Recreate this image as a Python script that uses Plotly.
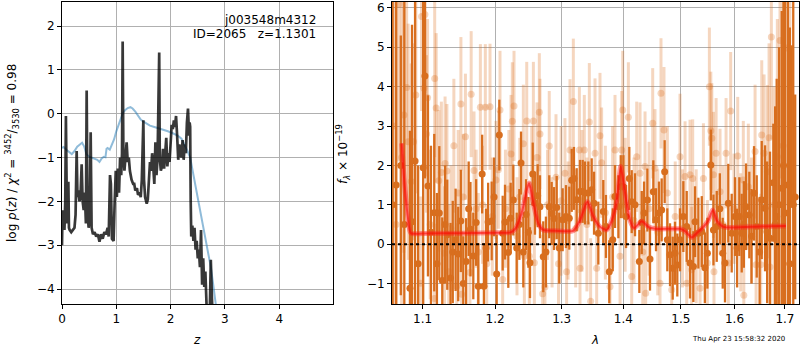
import math
import plotly.graph_objects as go

# ---------------- left panel: redshift PDF ----------------
PZ_Z = [0.000, 0.010, 0.020, 0.030, 0.045, 0.060, 0.072, 0.082, 0.092, 0.105,
        0.117, 0.128, 0.140, 0.170, 0.200, 0.230, 0.250, 0.270, 0.285, 0.300,
        0.320, 0.340, 0.362, 0.380, 0.400, 0.420, 0.440, 0.454, 0.470, 0.490,
        0.510, 0.528, 0.545, 0.570, 0.600, 0.630, 0.660, 0.690, 0.720, 0.750,
        0.780, 0.810, 0.840, 0.860, 0.884, 0.900, 0.920, 0.950, 0.970, 0.990,
        1.010, 1.030, 1.050, 1.070, 1.090, 1.105, 1.117, 1.130, 1.150, 1.170,
        1.190, 1.210, 1.230, 1.250, 1.280, 1.310, 1.330, 1.350, 1.380, 1.400,
        1.430, 1.450, 1.470, 1.498, 1.510, 1.530, 1.560, 1.580, 1.600, 1.620,
        1.640, 1.660, 1.680, 1.700, 1.720, 1.740, 1.760, 1.790, 1.800, 1.820,
        1.840, 1.860, 1.880, 1.900, 1.920, 1.940, 1.960, 1.980, 2.000, 2.020,
        2.040, 2.060, 2.080, 2.100, 2.120, 2.140, 2.160, 2.180, 2.200, 2.220,
        2.240, 2.260, 2.280, 2.300, 2.320, 2.340, 2.350, 2.360, 2.370, 2.380,
        2.400, 2.420, 2.440, 2.460, 2.480, 2.500, 2.520, 2.540, 2.560, 2.580,
        2.600, 2.620, 2.640, 2.660, 2.680, 2.720, 2.740, 2.760, 2.790, 2.900]
PZ_LOGP = [-3.0, -2.2, -2.6, -2.3, -2.65, -2.0, -0.05, -1.6, -2.5, -2.1,
           -1.55, -2.6, -2.65, -2.7, -2.65, -2.6, -2.3, -0.85, -1.9, -1.75,
           -2.0, -1.9, -1.15, -2.0, -2.2, -1.8, -2.5, 0.53, -2.2, -2.6,
           -2.4, -0.42, -2.6, -2.75, -2.7, -2.8, -2.75, -2.92, -2.75, -2.85,
           -2.7, -2.75, -2.6, -2.8, -1.4, -1.6, -2.85, -2.9, -2.0, -1.3,
           -1.9, -1.25, -1.8, -1.0, -1.4, -0.9, 1.65, -0.9, -1.3, -0.9,
           -0.65, -1.1, -1.0, -1.3, -1.5, -1.6, -1.6, -1.75, -1.7, -1.85,
           -1.8, -1.9, -1.5, -0.15, -1.5, -1.9, -2.05, -1.95, -1.5, -1.1,
           -1.3, -0.9, -1.2, -1.6, -0.65, -1.4, -1.0, 1.4, -1.0, -1.3,
           -1.2, -0.8, -1.25, -0.9, -0.55, -1.2, -0.9, -1.1, -0.5, -0.25,
           -0.35, -0.15, -0.3, -0.05, -0.5, -1.05, -0.7, -0.9, -1.0, -0.6,
           -1.05, -0.7, -0.9, -0.2, 0.12, -0.5, -0.2, -0.3, -2.0, -2.8,
           -2.55, -2.9, -2.6, -3.1, -2.9, -3.3, -3.1, -3.5, -2.65, -3.9,
           -3.3, -3.95, -3.6, -4.5, -5.0, -4.6, -3.33, -4.2, -6.0, -8.0]

PRIOR_Z = [0.00, 0.03, 0.08, 0.13, 0.18, 0.23, 0.28, 0.33, 0.37, 0.41,
           0.45, 0.50, 0.55, 0.60, 0.65, 0.69, 0.73, 0.77, 0.80, 0.82,
           0.84, 0.88, 0.92, 0.96, 1.00, 1.04, 1.08, 1.12, 1.16, 1.21,
           1.26, 1.30, 1.35, 1.40, 1.45, 1.50, 1.55, 1.62, 1.70, 1.78,
           1.86, 1.95, 2.05, 2.13, 2.20, 2.25, 2.30, 2.36, 2.42, 2.48,
           2.54, 2.60, 2.65, 2.69, 2.74, 2.78, 2.83, 2.88]
PRIOR_LOGP = [-0.78, -0.76, -0.82, -0.88, -0.92, -0.85, -0.75, -0.70, -0.66, -0.75,
              -0.92, -0.98, -1.00, -1.02, -1.05, -1.10, -1.02, -0.98, -0.99, -0.80,
              -0.78, -0.82, -0.70, -0.58, -0.40, -0.25, -0.10, 0.02, 0.08, 0.13,
              0.15, 0.12, 0.05, -0.05, -0.13, -0.18, -0.22, -0.27, -0.30, -0.33,
              -0.36, -0.40, -0.45, -0.50, -0.57, -0.68, -0.82, -1.00, -1.40, -1.80,
              -2.20, -2.57, -2.90, -3.18, -3.50, -3.86, -4.33, -4.80]

# ---------------- right panel: spectrum ----------------
DARK_WAVE = [1.061, 1.0655, 1.0715, 1.076, 1.0833, 1.086, 1.090, 1.094, 1.1007, 1.103,
             1.107, 1.111, 1.1154, 1.119, 1.1222, 1.1262,
             1.130, 1.133, 1.1375, 1.1405, 1.1444, 1.148, 1.1516, 1.155, 1.159, 1.1625,
             1.165, 1.169, 1.173, 1.176, 1.1815, 1.184, 1.187, 1.190, 1.1951, 1.1985,
             1.2023, 1.2061, 1.2110, 1.2144, 1.2192, 1.2227, 1.2266, 1.2316, 1.2355, 1.2380,
             1.2414, 1.2455, 1.2490, 1.2514, 1.2555, 1.2589, 1.2630, 1.2665, 1.2715, 1.2756,
             1.2807, 1.2844, 1.2880, 1.2922, 1.2962, 1.3015, 1.3067, 1.3119, 1.3157, 1.3193,
             1.3236, 1.3289, 1.3332, 1.3369, 1.3423, 1.3477, 1.3515, 1.3585, 1.3666, 1.3710,
             1.3765, 1.3822, 1.3860, 1.3916, 1.3956, 1.4000, 1.4045, 1.4100, 1.4141, 1.4197,
             1.4271, 1.4312, 1.4352, 1.4409, 1.4455, 1.4513, 1.4560, 1.4612, 1.4659, 1.4712,
             1.4759, 1.4807, 1.4855, 1.4896, 1.4937, 1.4986, 1.5046, 1.5107, 1.5167, 1.5228,
             1.5259, 1.5320, 1.5383, 1.5440, 1.5487, 1.5551, 1.5600, 1.5662, 1.5720, 1.5775,
             1.5818, 1.5881, 1.5946, 1.6010, 1.6050, 1.6093, 1.6139, 1.6180, 1.6223, 1.6287,
             1.6330, 1.6380, 1.6433, 1.6490, 1.6532, 1.6598, 1.6640, 1.6697, 1.6764, 1.6800,
             1.6832, 1.6880, 1.6934, 1.6970, 1.7001, 1.7060, 1.7100, 1.7137, 1.7170, 1.7210]
DARK_FLUX = [1.0, 1.5, 2.0, 0.5, -1.12, 0.57, 2.11, -0.5, 1.94, 4.27,
             1.48, 0.3, 0.80, -0.5, 0.79, -0.92,
             0.5, 0.24, -0.86, -0.2, 0.11, -0.25, 0.59, -1.0, -0.44, 0.9,
             0.38, -0.3, 0.55, -1.07, 1.78, -1.07, -0.10, 0.56, 0.59, 1.2,
             -0.76, 2.77, 0.28, 0.56, -0.21, 0.66, 1.12, -0.10, 0.5, 2.06,
             -0.2, 0.75, 0.3, -0.47, 1.78, 1.04, 1.23, 0.95, -0.32, -0.2,
             0.95, 0.78, 0.65, 0.93, -0.1, 0.62, 0.7, 0.66, 1.62, 1.67,
             1.13, 1.34, 1.34, 1.3, 1.3, 1.38, 1.04, 0.28, 0.83, 0.45,
             -0.7, 0.11, 1.21, 0.95, 1.46, 1.46, 0.70, 1.67, 1.08, 1.0,
             -0.44, 0.55, 0.79, 1.12, -0.38, 1.33, 0.62, 0.79, 0.87, 1.84,
             0.11, -0.27, -0.61, -0.23, -0.53, 0.11, 0.70, 0.45, -0.48, -0.57,
             0.57, 0.28, 0.32, -0.6, -0.23, 2.01, 0.36, 0.45, 0.9, -0.23,
             -0.48, 1.04, 0.28, 0.70, -0.1, 0.70, 0.28, 0.5, 0.95, 0.74,
             0.2, 1.29, 0.45, -0.2, 1.12, 0.91, 0.3, 0.15, 1.56, 0.5,
             0.70, 1.0, 1.42, 2.0, 0.79, 1.5, -0.5, 3.05, 1.0, 1.2]
DARK_ERR = [9, 8, 3.3, 8, 4.0, 5, 6, 2.5, 4.5, 2.6,
            2.3, 2.2, 2.0, 1.8, 1.7, 1.6,
            1.5, 1.4, 1.4, 1.3, 1.3, 1.2, 1.3, 1.2, 1.1, 1.2,
            1.2, 1.1, 1.1, 1.1, 1.0, 1.1, 1.0, 1.0, 1.0, 1.0,
            1.0, 0.9, 0.95, 0.95, 0.9, 0.9, 0.9, 0.9, 0.9, 0.8,
            0.9, 0.9, 0.9, 0.9, 0.8, 0.8, 0.8, 0.8, 0.9, 0.9,
            0.8, 0.8, 0.8, 0.8, 0.9, 0.8, 0.8, 0.8, 0.8, 0.8,
            0.8, 0.8, 0.8, 0.8, 0.8, 0.8, 0.8, 0.8, 0.8, 0.8,
            0.8, 0.8, 0.8, 0.8, 0.8, 0.8, 0.8, 0.8, 0.8, 0.8,
            0.8, 0.8, 0.8, 0.8, 0.8, 0.8, 0.8, 0.8, 0.8, 0.8,
            0.8, 0.8, 0.8, 0.8, 0.8, 0.8, 0.9, 0.9, 0.9, 0.9,
            0.9, 0.9, 0.9, 0.9, 0.9, 0.9, 0.9, 0.9, 0.9, 0.9,
            1.0, 1.0, 1.0, 1.0, 1.0, 1.0, 1.0, 1.1, 1.1, 1.1,
            1.2, 1.2, 1.3, 1.4, 1.5, 1.6, 1.8, 2.2, 1.5, 3.0,
            3.5, 4.0, 4.5, 5.0, 6.0, 7.0, 6.0, 2.0, 8.0, 2.6]

LIGHT_WAVE = [1.062, 1.0655, 1.069, 1.0725, 1.0755, 1.0790, 1.0810, 1.0850, 1.0880, 1.0910,
              1.0973, 1.0985, 1.1015, 1.1030, 1.1050, 1.1065, 1.1100, 1.1155, 1.1160, 1.1180,
              1.1215, 1.1250, 1.1292, 1.1300, 1.1325, 1.1350, 1.1380, 1.1420, 1.1460, 1.1480,
              1.1517, 1.1527, 1.1550, 1.1580, 1.1643, 1.1660, 1.1700, 1.1730, 1.1760, 1.1790,
              1.1820, 1.1860, 1.1880, 1.1927, 1.1960, 1.2013, 1.2047, 1.2071, 1.2110, 1.2150,
              1.2200, 1.2232, 1.2251, 1.2276, 1.2320, 1.2360, 1.2414, 1.2430, 1.2465, 1.2504,
              1.2540, 1.2565, 1.2580, 1.2620, 1.2655, 1.2665, 1.2706, 1.2741, 1.2780, 1.2807,
              1.2850, 1.2911, 1.2950, 1.2990, 1.3051, 1.3077, 1.3100, 1.3130, 1.3183, 1.3220,
              1.3279, 1.3289, 1.3320, 1.3358, 1.3400, 1.3439, 1.3460, 1.3531, 1.3558, 1.3612,
              1.3639, 1.3700, 1.3777, 1.3820, 1.3860, 1.3944, 1.3972, 1.3989, 1.4030, 1.4084,
              1.4141, 1.4180, 1.4226, 1.4283, 1.4330, 1.4369, 1.4380, 1.4440, 1.4502, 1.4542,
              1.4590, 1.4630, 1.4647, 1.4700, 1.4760, 1.4837, 1.4900, 1.4986, 1.5030, 1.5077,
              1.5107, 1.5167, 1.5197, 1.5216, 1.5280, 1.5351, 1.5413, 1.5487, 1.5524, 1.5551,
              1.5570, 1.5600, 1.5610, 1.5650, 1.5724, 1.5780, 1.5838, 1.5881, 1.5926, 1.5990,
              1.6062, 1.6120, 1.6170, 1.6180, 1.6268, 1.6330, 1.6400, 1.6420, 1.6512, 1.6532,
              1.6578, 1.6644, 1.6678, 1.6697, 1.6724, 1.6780, 1.6845, 1.6899, 1.6960, 1.7035,
              1.7100]
LIGHT_FLUX = [3.0, 0.5, 6.1, 2.2, 3.28, 3.98, 2.6, 1.59, 2.6, 3.79,
              -0.99, 5.78, 3.96, 5.83, 2.8, 3.72, 0.5, -1.38, 4.21, 3.46,
              1.61, 1.82, -0.23, 2.05, 1.86, -0.7, 0.4, 2.5, -1.07, 1.3,
              3.56, -1.27, 1.2, 2.73, -0.72, 3.81, 1.87, 0.9, -0.2, 3.48,
              1.0, 3.48, -0.5, 3.49, 0.7, 1.63, 1.89, 3.41, -0.9, 0.9,
              1.4, 2.29, 3.12, 3.51, 0.2, 1.2, 2.55, -0.31, 3.13, -0.31,
              1.5, 3.13, -0.47, 2.2, 3.35, 2.8, -1.26, -1.09, 1.0, 2.49,
              0.3, 1.7, -0.5, 1.1, 1.8, -0.7, 0.6, 2.39, 3.62, 0.4,
              2.39, -0.61, 1.1, 2.39, 0.5, 3.1, -1.45, 2.31, -0.61, 2.75,
              2.07, 0.8, -1.08, 1.2, 2.39, -0.31, 2.39, 3.41, 1.0, 3.22,
              -0.82, 0.6, 2.22, 1.8, -0.2, 1.97, -1.25, 0.9, 3.07, 1.93,
              0.3, -0.99, 3.83, 2.9, 1.3, -1.16, 0.7, 2.22, 0.4, 1.72,
              -0.99, 1.76, -0.65, 1.67, 0.2, -1.12, 1.67, -0.48, 4.0, 2.88,
              2.69, 1.76, -0.7, 2.31, 1.33, 0.5, 2.31, -0.48, 3.38, 0.9,
              2.24, 0.3, 1.63, -1.3, 1.46, 0.6, 2.35, -0.52, -0.52, 2.77,
              2.31, 1.84, 2.7, -0.58, 5.26, 1.0, 2.22, 5.17, 2.5, 4.98,
              1.5]
LIGHT_ERR = [8, 7, 4, 5, 3.5, 3, 3, 3, 2.5, 2.5,
             2.2, 2.4, 2.2, 2.0, 2.0, 2.0, 1.9, 1.9, 2.0, 1.9,
             1.8, 1.8, 1.7, 1.7, 1.7, 1.7, 1.6, 1.7, 1.6, 1.6,
             1.7, 1.6, 1.6, 1.6, 1.5, 1.6, 1.5, 1.5, 1.5, 1.6,
             1.5, 1.6, 1.5, 1.6, 1.5, 1.5, 1.5, 1.5, 1.5, 1.5,
             1.5, 1.5, 1.5, 1.4, 1.5, 1.5, 1.5, 1.5, 1.5, 1.5,
             1.5, 1.5, 1.5, 1.4, 1.5, 1.4, 1.5, 1.5, 1.4, 1.4,
             1.4, 1.6, 1.5, 1.9, 1.4, 1.7, 1.5, 1.8, 1.6, 1.5,
             1.6, 1.5, 1.8, 1.4, 1.7, 1.5, 1.6, 1.9, 1.5, 1.6,
             1.4, 1.7, 1.5, 1.8, 1.4, 1.6, 1.5, 1.5, 1.7, 1.4,
             1.5, 1.6, 1.4, 1.8, 1.5, 1.4, 1.6, 1.7, 1.4, 1.5,
             1.6, 1.5, 1.4, 1.6, 1.7, 1.5, 1.4, 1.6, 1.5, 1.4,
             1.5, 1.4, 1.6, 1.5, 1.7, 1.5, 1.4, 1.6, 1.5, 1.5,
             1.4, 1.6, 1.5, 1.4, 1.6, 1.5, 1.4, 1.6, 1.5, 1.4,
             1.5, 1.5, 1.5, 1.5, 1.6, 1.6, 1.7, 1.7, 1.8, 1.9,
             2.0, 2.2, 2.4, 2.5, 2.6, 3.0, 3.5, 3.5, 4.0, 4.0,
             6.0]

MODEL_WAVE = [1.0727, 1.0755, 1.0805, 1.0845, 1.10, 1.15, 1.20, 1.2226, 1.2300, 1.2389,
              1.2499, 1.2565, 1.2639, 1.2715, 1.29, 1.3181, 1.3288, 1.3406, 1.3503, 1.3612,
              1.3722, 1.3805, 1.3888, 1.3955, 1.4028, 1.4112, 1.4180, 1.4312, 1.4426, 1.4543,
              1.48, 1.4986, 1.5077, 1.5198, 1.5290, 1.5413, 1.5506, 1.5588, 1.5663, 1.5789,
              1.65, 1.7018]
MODEL_FLUX = [2.56, 1.72, 0.70, 0.28, 0.27, 0.28, 0.29, 0.30, 0.40, 0.79,
              1.55, 1.04, 0.53, 0.36, 0.34, 0.34, 0.60, 1.08, 0.70, 0.44,
              0.36, 0.60, 1.10, 1.97, 1.30, 0.60, 0.41, 0.58, 0.44, 0.39,
              0.39, 0.39, 0.33, 0.17, 0.28, 0.44, 0.60, 0.87, 0.60, 0.44,
              0.45, 0.46]

LEFT_XTICKS = [0, 1, 2, 3, 4]
LEFT_YTICKS = [-4, -3, -2, -1, 0, 1, 2]
RIGHT_XTICKS = [1.1, 1.2, 1.3, 1.4, 1.5, 1.6, 1.7]
RIGHT_XTICKTEXT = ["1.1", "1.2", "1.3", "1.4", "1.5", "1.6", "1.7"]
RIGHT_YTICKS = [-1, 0, 1, 2, 3, 4, 5, 6]

W, H = 800, 350
FONT = "DejaVu Sans"
DARK = "rgb(216,110,30)"
LIGHT = "rgba(218,106,26,0.28)"
GRID = "#b0b0b0"

fig = go.Figure()

# left panel
fig.add_trace(go.Scatter(x=PRIOR_Z, y=PRIOR_LOGP, mode="lines", xaxis="x", yaxis="y",
                         line=dict(color="rgba(31,119,180,0.5)", width=2), hoverinfo="skip"))
fig.add_trace(go.Scatter(x=PZ_Z, y=PZ_LOGP, mode="lines", xaxis="x", yaxis="y",
                         line=dict(color="rgba(0,0,0,0.78)", width=2.7), hoverinfo="skip"))

# right panel
fig.add_trace(go.Scatter(x=LIGHT_WAVE, y=LIGHT_FLUX, mode="markers", xaxis="x2", yaxis="y2",
                         marker=dict(color=LIGHT, size=7, line=dict(width=0)),
                         error_y=dict(type="data", array=LIGHT_ERR, thickness=3, width=0, color=LIGHT),
                         hoverinfo="skip"))
fig.add_trace(go.Scatter(x=DARK_WAVE, y=DARK_FLUX, mode="markers", xaxis="x2", yaxis="y2",
                         marker=dict(color=DARK, size=7, line=dict(width=0)),
                         error_y=dict(type="data", array=DARK_ERR, thickness=2.3, width=0, color=DARK),
                         hoverinfo="skip"))
fig.add_trace(go.Scatter(x=MODEL_WAVE, y=MODEL_FLUX, mode="lines", xaxis="x2", yaxis="y2",
                         line=dict(color="rgba(255,30,30,0.45)", width=5, shape="spline", smoothing=0.6),
                         hoverinfo="skip"))
fig.add_trace(go.Scatter(x=MODEL_WAVE, y=MODEL_FLUX, mode="lines", xaxis="x2", yaxis="y2",
                         line=dict(color="rgba(255,0,0,0.55)", width=2, shape="spline", smoothing=0.6),
                         hoverinfo="skip"))

ydom = [1 - 304 / H, 1 - 2 / H]
axis_common = dict(showgrid=True, gridcolor=GRID, gridwidth=1, showline=True, mirror=True,
                   linecolor="black", linewidth=1, ticks="outside", ticklen=4, tickwidth=1,
                   tickcolor="black", zeroline=False, automargin=False,
                   tickfont=dict(family=FONT, size=12, color="black"))

fig.update_layout(
    width=W, height=H, margin=dict(l=0, r=0, t=0, b=0, pad=0, autoexpand=False),
    paper_bgcolor="white", plot_bgcolor="white", showlegend=False,
    font=dict(family=FONT, size=12, color="black"),
    xaxis=dict(domain=[62 / W, 333 / W], range=[0, 4.99], tickvals=LEFT_XTICKS,
               anchor="y", **axis_common),
    yaxis=dict(domain=ydom, range=[-4.34, 2.55], tickvals=LEFT_YTICKS,
               anchor="x", **axis_common),
    xaxis2=dict(domain=[392 / W, 799 / W], type="log",
                range=[math.log10(1.0602), math.log10(1.7289)],
                tickvals=RIGHT_XTICKS, ticktext=RIGHT_XTICKTEXT, anchor="y2", **axis_common),
    yaxis2=dict(domain=ydom, range=[-1.52, 6.15], tickvals=RIGHT_YTICKS,
                anchor="x2", **axis_common),
    shapes=[dict(type="line", xref="x2 domain", yref="y2", x0=0, x1=1, y0=0, y1=0,
                 line=dict(color="black", width=2, dash="dot"), layer="above")],
)

NB = "\u00a0"
ann = [
    dict(x=318 / W, y=1 - 20 / H, text="j003548m4312", xanchor="right", yanchor="middle"),
    dict(x=318 / W, y=1 - 34.5 / H, text="ID=2065" + NB * 3 + "z=1.1301", xanchor="right", yanchor="middle"),
    dict(x=197 / W, y=1 - 340 / H, text="<i>z</i>", xanchor="center", yanchor="middle"),
    dict(x=595 / W, y=1 - 340 / H, text="<i>λ</i>", xanchor="center", yanchor="middle"),
    dict(x=12 / W, y=1 - 153 / H, textangle=-90, xanchor="center", yanchor="middle",
         text="log <i>p</i>(<i>z</i>) / <i>χ</i><sup>2</sup> = <sup>3452</sup>/<sub>3530</sub> = 0.98"),
    dict(x=343 / W, y=1 - 154 / H, textangle=-90, xanchor="center", yanchor="middle",
         text="<i>f</i><sub><i>λ</i></sub> × 10<sup>−19</sup>"),
    dict(x=787 / W, y=1 - 339 / H, text="Thu Apr 23 15:58:32 2020", xanchor="right", yanchor="middle",
         font=dict(family=FONT, size=7, color="black")),
]
for a in ann:
    a.setdefault("font", dict(family=FONT, size=12, color="black"))
    a.update(xref="paper", yref="paper", showarrow=False)
fig.update_layout(annotations=ann)

fig.write_html("out.html", config={"displayModeBar": False},
               post_script="document.body.style.margin='0px';document.body.style.overflow='hidden';")
